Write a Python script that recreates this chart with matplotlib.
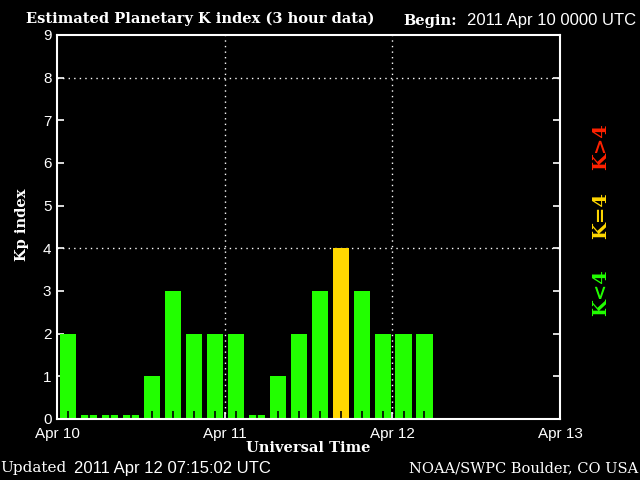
import numpy as np
import matplotlib
matplotlib.use("Agg")
import matplotlib.pyplot as plt

# Kp values, 3-hour bins starting 2011 Apr 10 0000 UTC
kp = [2, 0, 0, 0, 1, 3, 2, 2, 2, 0, 1, 2, 3, 4, 3, 2, 2, 2]
day_labels = ["Apr 10", "Apr 11", "Apr 12", "Apr 13"]

green = "#22ff00"
yellow = "#ffd700"
red = "#ff2200"

hours = np.arange(len(kp)) * 3 + 1.6
heights = [v if v > 0 else 0.1 for v in kp]
colors = [green if v < 4 else (yellow if v == 4 else red) for v in kp]

fig = plt.figure(figsize=(6.4, 4.8), dpi=100, facecolor="black")
ax = fig.add_axes([57/640, 1 - 419/480, (560 - 57)/640, (419 - 35)/480])
ax.set_facecolor("black")

ax.bar(hours, heights, width=2.3, color=colors, align="center", zorder=2)
# black tick marks at the bin centres, drawn over the bars
ax.vlines(hours, 0, 0.19, color="black", linewidth=1.2, zorder=3)

ax.set_xlim(0, 72)
ax.set_ylim(0, 9)
ax.set_xticks([0, 24, 48, 72])
ax.set_xticklabels(day_labels)
ax.set_yticks(range(10))

for s in ax.spines.values():
    s.set_color("white")
    s.set_linewidth(1.5)
    s.set_zorder(4)

ax.tick_params(axis="y", which="major", direction="in", colors="white",
               length=5, width=1.2, left=True, right=True, labelsize=11, pad=4)
ax.tick_params(axis="x", which="major", direction="in", colors="white",
               length=5, width=1.2, labelsize=11, pad=6)
for lab in ax.get_xticklabels() + ax.get_yticklabels():
    lab.set_family("Liberation Sans")

# dotted grid at Kp 4, 8 and day boundaries
for y in [4, 8]:
    ax.axhline(y, color="white", linestyle=(0, (1, 3)), linewidth=1.0, zorder=1)
for x in [24, 48]:
    ax.axvline(x, color="white", linestyle=(0, (1, 3)), linewidth=1.0, zorder=1)

serif = "DejaVu Serif"
fig.text(26/640, 1 - 19/480, "Estimated Planetary K index (3 hour data)",
         color="white", family=serif, weight="bold", fontsize=10.5, va="center")
fig.text(403/640, 1 - 21/480, "Begin:", color="white", family=serif,
         weight="bold", fontsize=10.5, va="center")
fig.text(467/640, 1 - 21/480, "2011 Apr 10 0000 UTC", color="white",
         family="Liberation Sans", fontsize=12, va="center")

fig.text(22/640, 1 - 225/480, "Kp index", color="white", family=serif,
         weight="bold", fontsize=10.5, rotation=90, ha="center", va="center")
fig.text(308/640, 1 - 448/480, "Universal Time", color="white", family=serif,
         weight="bold", fontsize=10.5, ha="center", va="center")

fig.text(0/640, 1 - 468/480, "Updated", color="white", family=serif,
         fontsize=11, va="center")
fig.text(74/640, 1 - 468/480, "2011 Apr 12 07:15:02 UTC", color="white",
         family="Liberation Sans", fontsize=12, va="center")
fig.text(638/640, 1 - 468/480, "NOAA/SWPC Boulder, CO USA", color="white",
         family=serif, fontsize=10.5, ha="right", va="center")

for txt, col, yc in [("K<4", green, 293), ("K=4", yellow, 216), ("K>4", red, 147)]:
    fig.text(601/640, 1 - yc/480, txt, color=col, family=serif, fontsize=14,
             weight="bold", rotation=90, ha="center", va="center")

fig.savefig("out.png", dpi=100, facecolor="black")
